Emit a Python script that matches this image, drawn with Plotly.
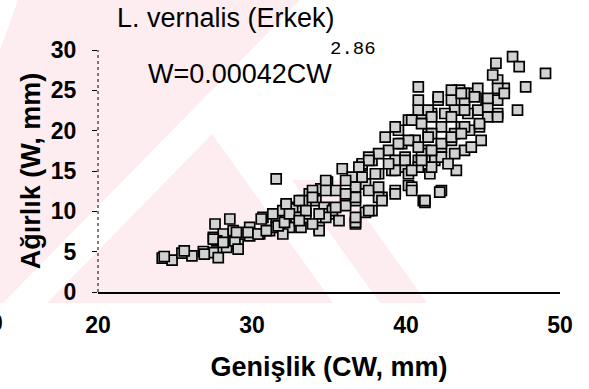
import plotly.graph_objects as go

# ---- data ----
cw = [
    24.17, 24.81, 25.45, 26.10, 26.84, 27.49, 27.81, 24.30, 25.60, 26.90,
    27.60, 28.56, 27.49, 28.13, 28.78, 28.35, 29.10, 27.71, 27.49, 28.13,
    28.89, 29.10, 28.99, 29.85, 30.50, 31.14, 29.85, 30.71, 31.57, 32.22,
    32.22, 32.86, 31.57, 32.43, 32.00, 29.74, 30.39, 30.93, 31.70, 32.11,
    30.60, 31.35, 32.00, 32.64, 31.57,
    32.86, 33.50, 34.15, 34.68, 34.36, 35.00, 33.72, 34.47, 33.28, 33.18,
    36.72, 35.22, 34.36, 34.90, 35.86, 36.51, 37.15, 37.79, 38.65, 39.51,
    40.16, 41.01, 41.66, 40.80, 36.08, 36.72, 37.79, 38.44, 39.30, 40.16,
    41.12, 37.37, 38.22, 39.08, 39.94, 40.80, 41.66, 38.87, 39.72, 40.59,
    41.44, 36.72, 35.43,
    46.92, 47.35, 45.84, 49.06, 47.77, 47.24, 46.38, 45.95, 45.95, 45.20,
    45.31, 44.66, 44.34, 43.80, 44.77, 44.88, 43.80, 44.12, 43.59, 43.16,
    42.52, 42.95, 42.30, 42.95, 42.30, 43.27, 41.87, 41.55, 42.30, 41.23,
    40.37, 40.16, 40.80, 41.23, 41.66, 40.80, 41.44, 40.16, 45.63, 42.09,
    43.48, 44.66, 44.02,
    39.30, 38.22, 37.58, 37.15, 34.79, 33.93, 40.80, 42.09, 42.95, 43.80,
    45.95, 44.24, 43.16, 42.30, 41.01, 39.94, 39.30,
    42.19, 37.37, 36.72, 34.79, 36.08, 38.22, 39.30, 40.37,
    45.95, 46.38, 45.95, 45.31, 44.77, 45.31, 44.45, 43.59, 43.80, 43.80,
    42.95, 41.66, 41.44, 42.95, 43.59, 43.16, 42.30, 41.66, 40.80, 40.37,
    41.01, 39.94, 41.66, 42.73,
    39.51, 37.58, 36.94, 34.79, 36.08, 37.15, 38.01, 39.30, 40.37, 41.01,
    38.87, 36.72, 36.08, 37.58, 38.22, 41.23, 38.44, 37.58, 36.72, 34.79,
    33.93, 33.07, 32.22, 32.43, 33.50, 34.36, 35.43, 33.93, 33.07, 35.65,
]
w = [
    4.20, 3.95, 4.82, 4.48, 5.02, 4.89, 4.27, 4.40, 5.10, 4.70,
    8.43, 9.05, 6.76, 7.19, 7.60, 5.52, 5.94, 6.35, 6.56, 6.14,
    6.35, 5.32, 7.38, 6.97, 7.19, 7.60, 8.01, 9.25, 9.25, 9.68,
    10.71, 10.50, 8.01, 8.01, 7.19, 7.38, 7.19, 7.60, 8.20, 8.63,
    9.05, 9.68, 10.09, 10.30, 14.03,
    9.25, 9.68, 11.33, 10.50, 8.01, 9.68, 12.17, 12.79, 11.33, 8.01,
    8.43, 10.09, 7.60, 13.61, 15.28, 14.23, 15.69, 16.31, 19.21, 20.05,
    21.30, 22.13, 22.13, 25.44, 11.74, 11.33, 10.09, 11.74, 12.58, 13.20,
    11.33, 13.41, 14.66, 15.07, 15.48, 16.31, 16.72, 17.56, 18.39, 18.80,
    19.64, 12.99, 12.58,
    29.18, 27.93, 28.36, 27.11, 25.44, 22.54, 25.24, 26.28, 23.79, 23.79,
    21.71, 22.54, 24.62, 23.79, 20.46, 18.80, 17.56, 20.05, 20.46, 22.54,
    22.13, 23.79, 20.46, 18.80, 17.97, 15.07, 16.31, 14.66, 12.58, 11.12,
    12.99, 14.66, 15.48, 17.56, 19.64, 22.54, 22.54, 18.80, 26.90, 23.79,
    25.03, 25.24, 22.13,
    20.46, 17.15, 16.72, 15.90, 13.61, 12.58, 23.79, 24.20, 25.03, 24.62,
    22.13, 17.97, 19.64, 18.39, 17.15, 16.72, 16.31,
    12.37, 9.88, 8.63, 9.25, 10.71, 11.74, 12.17, 12.58,
    25.24, 24.62, 21.71, 22.95, 20.88, 24.00, 24.20, 24.62, 22.54, 20.46,
    21.71, 21.71, 19.21, 19.21, 19.64, 17.15, 16.72, 17.56, 17.97, 21.30,
    20.88, 16.31, 15.48, 15.90,
    18.39, 16.31, 15.48, 13.82, 13.82, 14.23, 14.66, 15.07, 15.07, 16.31,
    15.90, 11.74, 12.17, 12.58, 12.99, 11.33, 11.33, 10.09, 9.25, 12.58,
    11.74, 11.33, 10.92, 9.68, 10.09, 9.68, 10.50, 8.43, 8.84, 8.84,
]
x_ticks = [20, 30, 40, 50]
y_ticks = [0, 5, 10, 15, 20, 25, 30]

title_text = "L. vernalis (Erkek)"
equation_text = "W=0.00042CW"
exponent_text = "2.86"
x_title = "Genişlik (CW, mm)"
y_title = "Ağırlık (W, mm)"

# ---- geometry helpers (page pixels -> paper coords) ----
W_PX, H_PX = 589, 389
ML, MR, MT, MB = 98, 29, 50, 97
PW = W_PX - ML - MR
PH = H_PX - MT - MB


def px(xp):
    return (xp - ML) / PW


def py(yp):
    return (H_PX - MB - yp) / PH


def poly(points):
    return "M " + " L ".join(f"{px(a):.4f},{py(b):.4f}" for a, b in points) + " Z"


PINK = "#fdedf1"
watermark = [
    [(18, 0), (300, 0), (3, 303), (0, 303), (0, 50)],
    [(212, 134), (47, 303), (333, 303)],
    [(292, 180), (339, 180), (427, 303), (380, 303)],
]
shapes = [
    dict(type="path", path=poly(p), xref="paper", yref="paper",
         fillcolor=PINK, line=dict(width=0), layer="below")
    for p in watermark
]
# dotted y-axis line
shapes.append(dict(type="line", xref="paper", yref="paper", x0=0, x1=0, y0=0, y1=1,
                   line=dict(color="black", width=1, dash="dot"), layer="above"))

FONT = "Liberation Sans, Arial, sans-serif"

fig = go.Figure()
fig.add_trace(go.Scatter(
    x=cw, y=w, mode="markers",
    marker=dict(symbol="square", size=10, color="#d2d2d2",
                line=dict(color="black", width=1.7)),
    cliponaxis=False, showlegend=False,
))

fig.update_layout(
    width=W_PX, height=H_PX,
    margin=dict(l=ML, r=MR, t=MT, b=MB, autoexpand=False),
    paper_bgcolor="white", plot_bgcolor="rgba(0,0,0,0)",
    shapes=shapes,
    font=dict(family=FONT, color="black"),
    xaxis=dict(range=[20, 50], tickvals=x_ticks, ticktext=[str(v) for v in x_ticks],
               showgrid=False, zeroline=False, showline=True, linecolor="black",
               linewidth=1.5, ticks="", ticklabelstandoff=12, automargin=False,
               tickfont=dict(size=23, family=FONT, weight="bold"),
               title=dict(text=x_title, font=dict(size=27, family=FONT, weight="bold"),
                          standoff=20)),
    yaxis=dict(range=[0, 30], tickvals=y_ticks, ticktext=[str(v) for v in y_ticks],
               showgrid=False, zeroline=False, showline=False, ticks="outside",
               ticklen=5, tickcolor="black", tickwidth=1, ticklabelstandoff=11,
               automargin=False,
               tickfont=dict(size=23, family=FONT, weight="bold"),
               title=dict(text=y_title, font=dict(size=27, family=FONT, weight="bold"),
                          standoff=2)),
    annotations=[
        dict(text=title_text, xref="paper", yref="paper", x=px(226), y=py(18),
             xanchor="center", yanchor="middle", showarrow=False,
             font=dict(size=27, family=FONT)),
        dict(text=equation_text, xref="paper", yref="paper", x=px(240), y=py(74),
             xanchor="center", yanchor="middle", showarrow=False,
             font=dict(size=27, family=FONT)),
        dict(text=exponent_text, xref="paper", yref="paper", x=px(353), y=py(49),
             xanchor="center", yanchor="middle", showarrow=False,
             font=dict(size=19, family="Liberation Mono, Courier New, monospace")),
        dict(text="0", xref="paper", yref="paper", x=px(5), y=py(323),
             xanchor="right", yanchor="middle", showarrow=False,
             font=dict(size=23, family=FONT, weight="bold")),
    ],
)

fig.write_html("out.html", config={"displayModeBar": False},
               post_script="document.body.style.margin='0';")
